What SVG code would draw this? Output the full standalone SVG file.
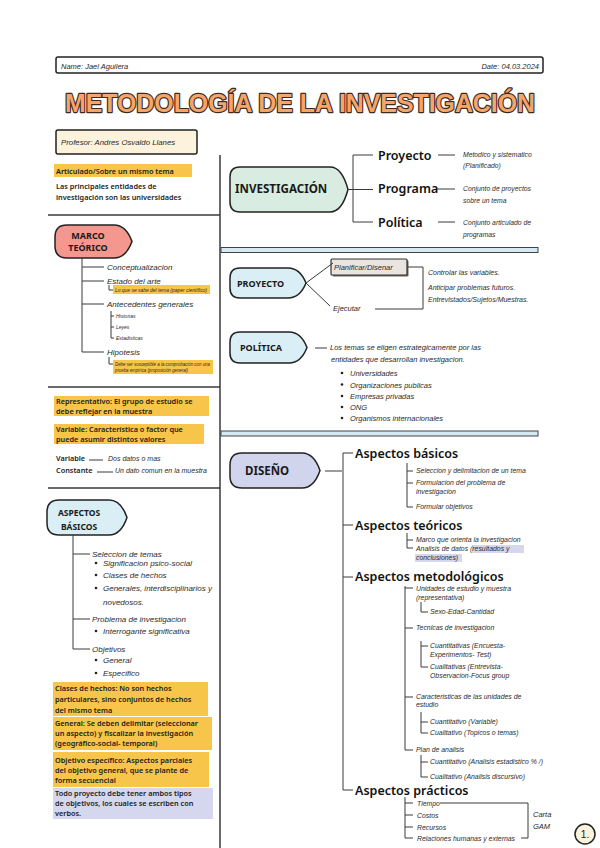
<svg xmlns="http://www.w3.org/2000/svg" width="600" height="848" viewBox="0 0 600 848">
<style>
.hw{font-family:"Liberation Sans",Arial,sans-serif;font-style:italic;fill:#2a2a2a}
.b{font-family:"Noto Sans","Liberation Sans",sans-serif;font-weight:600;fill:#1c1c1c;font-size:7.3px}
.h{font-family:"Noto Sans","Liberation Sans",sans-serif;font-weight:600;fill:#111;font-size:12.5px}
.nd{font-family:"Noto Sans","Liberation Sans",sans-serif;font-weight:700;fill:#1a1a1a}
.ln{fill:none;stroke:#3a3a3a;stroke-width:1}
.tk{fill:none;stroke:#3a3a3a;stroke-width:1.5}
.shape{stroke:#222;stroke-width:1.5}
.hl{fill:#f6c54a}
.lv{fill:#d5d7ef}
.bar{fill:#d4e9f3;stroke:#444;stroke-width:1}
</style>
<rect width="600" height="848" fill="#fff"/>

<g id="header">
<rect x="56" y="57" width="487" height="16" rx="2" fill="#fff" stroke="#222" stroke-width="1.5"/>
<text class="hw" x="61" y="68.5" font-size="7.5">Name: Jael Aguilera</text>
<text class="hw" x="539" y="68.5" font-size="7.5" text-anchor="end">Date: 04.03.2024</text>
</g>

<g id="title">
<text x="300" y="112" text-anchor="middle" font-family="Liberation Sans, Arial, sans-serif" font-weight="700" font-size="26" fill="#f5a46a" stroke="#3b2a1e" stroke-width="2.4" paint-order="stroke" stroke-linejoin="round" textLength="470" lengthAdjust="spacingAndGlyphs">METODOLOGÍA DE LA INVESTIGACIÓN</text>
</g>

<g id="profesor">
<rect x="56" y="130" width="141" height="24" rx="2" fill="#fdf3dc" stroke="#222" stroke-width="1.5"/>
<text class="hw" x="61" y="145" font-size="7.8">Profesor: Andres Osvaldo Llanes</text>
</g>

<g id="dividers">
<line class="tk" x1="220" y1="155" x2="220" y2="848"/>
<line class="tk" x1="48" y1="215" x2="220" y2="215"/>
<line class="tk" x1="48" y1="387" x2="220" y2="387"/>
<line class="tk" x1="48" y1="488" x2="220" y2="488"/>
<rect class="bar" x="221" y="247.5" width="317" height="5"/>
<rect class="bar" x="221" y="431" width="317" height="5"/>
</g>

<g id="nota-articulado">
<rect class="hl" x="54" y="164" width="138" height="13"/>
<text class="b" x="56" y="174">Articulado/Sobre un mismo tema</text>
<text class="b" x="56" y="189">Las principales entidades de</text>
<text class="b" x="56" y="200">investigación son las universidades</text>
</g>

<g id="marco-teorico">
<path class="shape" fill="#f4978e" d="M67 225 H114 Q126 225 132 241.5 Q126 258 114 258 H67 Q55 258 55 246 V237 Q55 225 67 225Z"/>
<text class="nd" x="88" y="239" font-size="9" text-anchor="middle">MARCO</text>
<text class="nd" x="88" y="251" font-size="9" text-anchor="middle">TEÓRICO</text>
</g>

<g id="marco-items">
<text class="hw" x="107" y="270" font-size="8">Conceptualizacion</text>
<text class="hw" x="107" y="284" font-size="8">Estado del arte</text>
<rect class="hl" x="113" y="285" width="97" height="9"/>
<text class="hw" x="115" y="291.5" font-size="5.5" textLength="92" lengthAdjust="spacingAndGlyphs">Lo que se sabe del tema (paper científico)</text>
<text class="hw" x="107" y="307" font-size="8">Antecedentes generales</text>
<text class="hw" x="116" y="318" font-size="5">Historias</text>
<text class="hw" x="116" y="329" font-size="5">Leyes</text>
<text class="hw" x="116" y="340" font-size="5">Estadisticas</text>
<text class="hw" x="107" y="355" font-size="8">Hipotesis</text>
<rect class="hl" x="113" y="360" width="100" height="14"/>
<text class="hw" x="115" y="366" font-size="5" textLength="95" lengthAdjust="spacingAndGlyphs">Debe ser susceptible a la comprobación con una</text>
<text class="hw" x="115" y="372" font-size="5" textLength="73" lengthAdjust="spacingAndGlyphs">prueba empírica (proposición general)</text>
</g>

<g id="notas-medio">
<rect class="hl" x="54" y="396" width="155" height="20"/>
<text class="b" x="56" y="404">Representativo: El grupo de estudio se</text>
<text class="b" x="56" y="414">debe reflejar en la muestra</text>
<rect class="hl" x="54" y="424" width="150" height="20"/>
<text class="b" x="56" y="432">Variable: Característica o factor que</text>
<text class="b" x="56" y="442">puede asumir distintos valores</text>
<text class="b" x="56" y="461">Variable</text>
<text class="hw" x="108" y="461" font-size="7">Dos datos o mas</text>
<text class="b" x="56" y="473">Constante</text>
<text class="hw" x="115" y="473" font-size="7">Un dato comun en la muestra</text>
</g>

<g id="aspectos-basicos-izq">
<path class="shape" fill="#d9eef5" d="M59 500 H109 Q121 500 127 517.5 Q121 535 109 535 H59 Q47 535 47 523 V512 Q47 500 59 500Z"/>
<text class="nd" x="79" y="516" font-size="8.5" text-anchor="middle">ASPECTOS</text>
<text class="nd" x="79" y="530" font-size="8.5" text-anchor="middle">BÁSICOS</text>
</g>

<g id="aspectos-items">
<text class="hw" x="92" y="557" font-size="8">Seleccion de temas</text>
<circle cx="96" cy="563" r="1.3" fill="#222"/>
<text class="hw" x="103" y="566" font-size="8">Significacion psico-social</text>
<circle cx="96" cy="575" r="1.3" fill="#222"/>
<text class="hw" x="103" y="578" font-size="8">Clases de hechos</text>
<circle cx="96" cy="588" r="1.3" fill="#222"/>
<text class="hw" x="103" y="591" font-size="8">Generales, interdisciplinarios y</text>
<text class="hw" x="103" y="605" font-size="8">novedosos.</text>
<text class="hw" x="92" y="622" font-size="8">Problema de investigacion</text>
<circle cx="96" cy="631" r="1.3" fill="#222"/>
<text class="hw" x="103" y="634" font-size="8">Interrogante significativa</text>
<text class="hw" x="92" y="652" font-size="8">Objetivos</text>
<circle cx="96" cy="660" r="1.3" fill="#222"/>
<text class="hw" x="103" y="663" font-size="8">General</text>
<circle cx="96" cy="673" r="1.3" fill="#222"/>
<text class="hw" x="103" y="676" font-size="8">Especifico</text>
</g>

<g id="notas-abajo">
<rect class="hl" x="53" y="682" width="155" height="34"/>
<text class="b" x="55" y="691">Clases de hechos: No son hechos</text>
<text class="b" x="55" y="702">particulares, sino conjuntos de hechos</text>
<text class="b" x="55" y="713">del mismo tema</text>
<rect class="hl" x="53" y="717" width="159" height="33"/>
<text class="b" x="55" y="726">General: Se deben delimitar (seleccionar</text>
<text class="b" x="55" y="736">un aspecto) y fiscalizar la investigación</text>
<text class="b" x="55" y="746">(geográfico-social- temporal)</text>
<rect class="hl" x="53" y="752" width="156" height="35"/>
<text class="b" x="55" y="763">Objetivo específico: Aspectos parciales</text>
<text class="b" x="55" y="773">del objetivo general, que se plante de</text>
<text class="b" x="55" y="783">forma secuencial</text>
<rect class="lv" x="53" y="788" width="160" height="31"/>
<text class="b" x="55" y="796">Todo proyecto debe tener ambos tipos</text>
<text class="b" x="55" y="806">de objetivos, los cuales se escriben con</text>
<text class="b" x="55" y="816">verbos.</text>
</g>

<g id="investigacion">
<path class="shape" fill="#d8ece1" d="M240 167 H330 Q342 167 348 189.5 Q342 212 330 212 H240 Q230 212 230 202 V177 Q230 167 240 167Z"/>
<text class="nd" x="235" y="193" font-size="11.6">INVESTIGACIÓN</text>
</g>
<g id="inv-items">
<text class="h" x="378" y="160" font-size="13">Proyecto</text>
<text class="h" x="378" y="193" font-size="13">Programa</text>
<text class="h" x="378" y="227" font-size="13">Política</text>
<text class="hw" x="463" y="157" font-size="6.8">Metodico y sistematico</text>
<text class="hw" x="463" y="168" font-size="6.8">(Planificado)</text>
<text class="hw" x="463" y="191" font-size="6.8">Conjunto de proyectos</text>
<text class="hw" x="463" y="203" font-size="6.8">sobre un tema</text>
<text class="hw" x="463" y="225" font-size="6.8">Conjunto articulado de</text>
<text class="hw" x="463" y="237" font-size="6.8">programas</text>
</g>

<g id="proyecto">
<path class="shape" fill="#d9eef5" d="M240 268 H288 Q300 268 306 283 Q300 298 288 298 H240 Q230 298 230 288 V278 Q230 268 240 268Z"/>
<text class="nd" x="237" y="286.5" font-size="9">PROYECTO</text>
</g>
<g id="proyecto-items">
<rect x="332.5" y="260.5" width="76" height="16" rx="1" fill="#6b6460"/>
<rect x="331" y="259" width="76" height="16" rx="1" fill="#e9e4e0" stroke="#333" stroke-width="1.2"/>
<text class="hw" x="334" y="270" font-size="7.5">Planificar/Disenar</text>
<text class="hw" x="333" y="311" font-size="7.5">Ejecutar</text>
<text class="hw" x="428" y="275" font-size="7">Controlar las variables.</text>
<text class="hw" x="428" y="290" font-size="7">Anticipar problemas futuros.</text>
<text class="hw" x="428" y="302" font-size="7">Entrevistados/Sujetos/Muestras.</text>
</g>

<g id="politica">
<path class="shape" fill="#d9eef5" d="M240 332 H289 Q301 332 307 347.5 Q301 363 289 363 H240 Q230 363 230 353 V342 Q230 332 240 332Z"/>
<text class="nd" x="240" y="351" font-size="9">POLÍTICA</text>
</g>
<g id="politica-items">
<text class="hw" x="330" y="350" font-size="7.5">Los temas se eligen estrategicamente por las</text>
<text class="hw" x="331" y="362" font-size="7.5">entidades que desarrollan investigacion.</text>
<circle cx="342" cy="373" r="1.3" fill="#222"/>
<text class="hw" x="350" y="376" font-size="7.5">Universidades</text>
<circle cx="342" cy="384.5" r="1.3" fill="#222"/>
<text class="hw" x="350" y="387.5" font-size="7.5">Organizaciones publicas</text>
<circle cx="342" cy="396" r="1.3" fill="#222"/>
<text class="hw" x="350" y="399" font-size="7.5">Empresas privadas</text>
<circle cx="342" cy="407" r="1.3" fill="#222"/>
<text class="hw" x="350" y="410" font-size="7.5">ONG</text>
<circle cx="342" cy="418" r="1.3" fill="#222"/>
<text class="hw" x="350" y="421" font-size="7.5">Organismos internacionales</text>
</g>

<g id="diseno">
<path class="shape" fill="#d1d4ed" d="M242 453 H302 Q314 453 320 470.5 Q314 488 302 488 H242 Q230 488 230 476 V465 Q230 453 242 453Z"/>
<text class="nd" x="245" y="475" font-size="11.5">DISEÑO</text>
</g>
<g id="diseno-items">
<text class="h" x="355" y="458">Aspectos básicos</text>
<text class="h" x="355" y="530">Aspectos teóricos</text>
<text class="h" x="355" y="581">Aspectos metodológicos</text>
<text class="h" x="355" y="795">Aspectos prácticos</text>
<text class="hw" x="416" y="473" font-size="6.9">Seleccion y delimitacion de un tema</text>
<text class="hw" x="416" y="485" font-size="6.9">Formulacion del problema de</text>
<text class="hw" x="416" y="494" font-size="6.9">investigacion</text>
<text class="hw" x="416" y="509" font-size="6.9">Formular objetivos</text>
<text class="hw" x="416" y="542" font-size="6.9">Marco que orienta la investigacion</text>
<rect class="lv" x="472" y="545" width="52" height="8"/>
<rect class="lv" x="415" y="554" width="47" height="8"/>
<text class="hw" x="416" y="551" font-size="6.9">Analisis de datos (resultados y</text>
<text class="hw" x="416" y="560" font-size="6.9">conclusiones)</text>
<text class="hw" x="416" y="591" font-size="6.9">Unidades de estudio y muestra</text>
<text class="hw" x="416" y="600" font-size="6.9">(representativa)</text>
<text class="hw" x="430" y="614" font-size="6.9">Sexo-Edad-Cantidad</text>
<text class="hw" x="416" y="630" font-size="6.9">Tecnicas de investigacion</text>
<text class="hw" x="430" y="648" font-size="6.9">Cuantitativas (Encuesta-</text>
<text class="hw" x="430" y="657" font-size="6.9">Experimentos- Test)</text>
<text class="hw" x="430" y="669" font-size="6.9">Cualitativas (Entrevista-</text>
<text class="hw" x="430" y="678" font-size="6.9">Observacion-Focus group</text>
<text class="hw" x="416" y="699" font-size="6.9">Caracteristicas de las unidades de</text>
<text class="hw" x="416" y="707" font-size="6.9">estudio</text>
<text class="hw" x="430" y="724" font-size="6.9">Cuantitativo (Variable)</text>
<text class="hw" x="430" y="735" font-size="6.9">Cualitativo (Topicos o temas)</text>
<text class="hw" x="416" y="752" font-size="6.9">Plan de analisis</text>
<text class="hw" x="430" y="764" font-size="6.9">Cuantitativo (Analisis estadistico % /)</text>
<text class="hw" x="430" y="779" font-size="6.9">Cualitativo (Analisis discursivo)</text>
<text class="hw" x="417" y="805.5" font-size="6.9">Tiempo</text>
<text class="hw" x="417" y="817.5" font-size="6.9">Costos</text>
<text class="hw" x="417" y="829.5" font-size="6.9">Recursos</text>
<text class="hw" x="417" y="840.5" font-size="6.9">Relaciones humanas y externas</text>
<text class="hw" x="533" y="817" font-size="7.5">Carta</text>
<text class="hw" x="533" y="829" font-size="7.5">GAM</text>
</g>

<g id="pagina">
<circle cx="585" cy="834" r="10" fill="#fdf3dc" stroke="#222" stroke-width="1.5"/>
<text x="585" y="838" text-anchor="middle" font-family="Liberation Sans, Arial, sans-serif" font-size="10" fill="#222">1.</text>
</g>

<g id="connectors">
<path class="ln" d="M82 258 V352 M82 267 H104 M82 281 H104 M82 304 H104 M82 352 H104"/>
<path class="ln" d="M109 285 V290 H113 M111 311 V338 M111 316 H114 M111 327 H114 M111 338 H114 M109 357 V364 H113"/>
<path class="ln" d="M89 460 H103 M97 472 H113"/>
<path class="ln" d="M73 535 V649 M73 554 H90 M73 619 H90 M73 649 H90"/>
<path class="ln" d="M348 189.5 H353 M353 155 V222 M353 155 H373 M353 189.5 H373 M353 222 H373 M438 155 H455 M437 189 H455 M438 222 H455"/>
<path class="ln" d="M306 283 L333 263 M306 283 L330 306 M408 267 H423 V309 H375"/>
<path class="ln" d="M315 348 H327"/>
<path class="ln" d="M325 471 H342 M343 453 V790 H353 M343 453 H353 M343 525 H353 M343 577 H353"/>
<path class="ln" d="M407 463 V507 M407 471 H413 M407 483 H413 M407 507 H413 M407 533 V548 M407 540 H413 M407 548 H413"/>
<path class="ln" d="M405 586 V750 M405 588 H413 M405 628 H413 M405 697 H413 M405 750 H413"/>
<path class="ln" d="M421 602 V612 H428 M421 641 V667 M421 646 H428 M421 667 H428 M421 712 V733 M421 722 H428 M421 733 H428 M421 755 V777 M421 762 H428 M421 777 H428"/>
<path class="ln" d="M405 797 V838 M405 803 H413 M405 815 H413 M405 827 H413 M405 838 H413 M440 803 H528 V838 H521"/>
</g>
</svg>
